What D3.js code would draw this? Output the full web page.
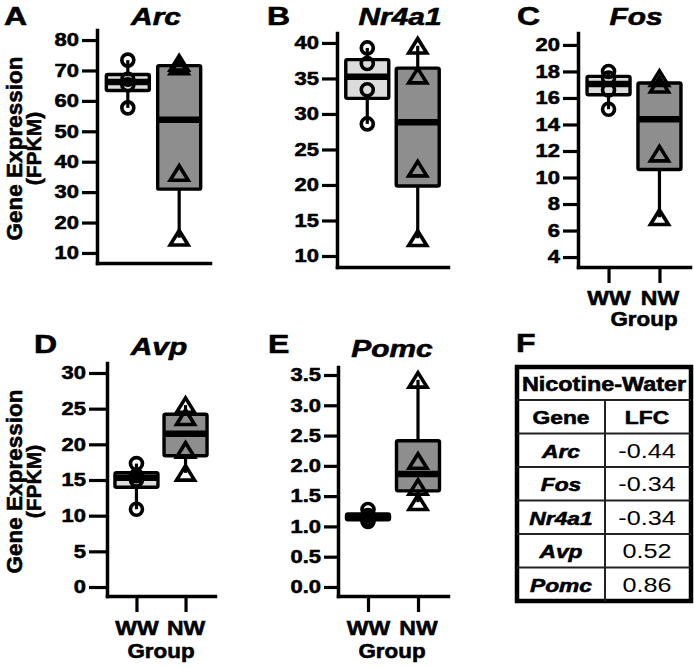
<!DOCTYPE html>
<html>
<head>
<meta charset="utf-8">
<script src="https://cdn.jsdelivr.net/npm/d3@7/dist/d3.min.js"></script>
<style>
  html, body { margin: 0; padding: 0; background: #fff; }
  svg { display: block; }
</style>
</head>
<body>
<svg id="chart" width="694" height="668"></svg>
<script>
// ---------------- DATA ----------------
const groups = ["WW", "NW"];

const arcWW   = [57.7, 65.3, 67.1, 73.4];
const arcNW   = [15.0, 36.3, 71.3, 72.5];
const nr4a1WW = [28.6, 33.4, 37.1, 39.3];
const nr4a1NW = [12.5, 22.3, 35.4, 39.6];
const fosWW   = [15.15, 16.6, 17.5, 18.0];
const fosNW   = [7.0, 11.8, 17.0, 17.5];
const avpWW   = [10.9, 15.0, 15.6, 17.3];
const avpNW   = [16.0, 19.2, 23.8, 25.5];
const pomcWW  = [1.08, 1.12, 1.18, 1.28];
const pomcNW  = [1.40, 1.65, 2.08, 3.42];

const arcTicks   = [10, 20, 30, 40, 50, 60, 70, 80];
const nr4a1Ticks = [10, 15, 20, 25, 30, 35, 40];
const fosTicks   = [4, 6, 8, 10, 12, 14, 16, 18, 20];
const avpTicks   = [0, 5, 10, 15, 20, 25, 30];
const pomcTicks  = [0.0, 0.5, 1.0, 1.5, 2.0, 2.5, 3.0, 3.5];

const tableGenes = ["Arc", "Fos", "Nr4a1", "Avp", "Pomc"];
const tableLFC   = ["-0.44", "-0.34", "-0.34", "0.52", "0.86"];

// ---------------- LAYOUT ----------------
const FONT = "'Liberation Sans', Arial, Helvetica, sans-serif";
const panels = [
  { gene: "Arc",   letter: "A", ww: arcWW,   nw: arcNW,   ticks: arcTicks,   fmt: d3.format("d"),
    x0: 97,  x1: 210, yTop: 30,  yBot: 263, domain: [6.7, 83.3],   titleX: 156, titleY: 25, letterX: 4,   letterY: 25,
    tickSize: 15, ylabel: true,  xlabels: false },
  { gene: "Nr4a1", letter: "B", ww: nr4a1WW, nw: nr4a1NW, ticks: nr4a1Ticks, fmt: d3.format("d"),
    x0: 337, x1: 448, yTop: 33,  yBot: 267, domain: [8.45, 41.4],  titleX: 400, titleY: 25, letterX: 267, letterY: 25,
    tickSize: 15, ylabel: false, xlabels: false },
  { gene: "Fos",   letter: "C", ww: fosWW,   nw: fosNW,   ticks: fosTicks,   fmt: d3.format("d"),
    x0: 578, x1: 690, yTop: 33,  yBot: 267, domain: [3.25, 20.9],  titleX: 636, titleY: 25, letterX: 517, letterY: 25,
    tickSize: 15, ylabel: false, xlabels: true, xlabY: 305, groupY: 326, groupX: 644 },
  { gene: "Avp",   letter: "D", ww: avpWW,   nw: avpNW,   ticks: avpTicks,   fmt: d3.format("d"),
    x0: 107, x1: 215, yTop: 363, yBot: 596, domain: [-1.26, 31.4], titleX: 159, titleY: 355, letterX: 34, letterY: 353,
    tickSize: 18, ylabel: true,  xlabels: true, xlabY: 635, groupY: 658, groupX: 161 },
  { gene: "Pomc",  letter: "E", ww: pomcWW,  nw: pomcNW,  ticks: pomcTicks,  fmt: d3.format(".1f"),
    x0: 338, x1: 448, yTop: 367, yBot: 596, domain: [-0.149, 3.632], titleX: 392, titleY: 357, letterX: 268, letterY: 353,
    tickSize: 14, ylabel: false, xlabels: true, xlabY: 635, groupY: 658, groupX: 392 }
];

const fills = { WW: "#dcdcdc", NW: "#8e8e8e" };
const BOXW = 43;
const TXT_STROKE = 0.55;

const svg = d3.select("#chart");

function txt(sel, x, y, s, o) {
  let tr = `translate(${x},${y}) scale(${o.sx || 1},1)`;
  if (o.rot) tr += ` rotate(${o.rot})`;
  const t = sel.append("text")
    .attr("transform", tr)
    .attr("text-anchor", o.anchor || "start")
    .style("font-family", FONT)
    .style("font-size", o.size + "px")
    .style("font-weight", o.weight || "normal")
    .style("font-style", o.style || "normal")
    .attr("fill", "#000")
    .text(s);
  if (o.weight === "bold") t.attr("stroke", "#000").attr("stroke-width", TXT_STROKE);
  return t;
}

panels.forEach(p => {
  const g = svg.append("g");
  const y = d3.scaleLinear().domain(p.domain).range([p.yBot, p.yTop]);
  const x = d3.scalePoint().domain(groups).range([p.x0, p.x1]).padding(0.6);

  // y axis
  g.append("g").attr("transform", `translate(${p.x0},0)`)
    .call(d3.axisLeft(y).tickValues(p.ticks).tickFormat(p.fmt)
      .tickSize(p.tickSize).tickSizeOuter(0).tickPadding(3))
    .call(a => {
      a.select(".domain").attr("stroke-width", 3.5).attr("stroke-linecap", "square");
      a.selectAll(".tick line").attr("stroke-width", 3.2);
      a.selectAll(".tick text")
        .attr("x", null)
        .attr("transform", `translate(${-(p.tickSize + 3)},0) scale(1.22,1)`)
        .style("font-family", FONT).style("font-size", "18px").style("font-weight", "bold")
        .attr("fill", "#000").attr("stroke", "#000").attr("stroke-width", TXT_STROKE);
    });

  // x axis
  g.append("g").attr("transform", `translate(0,${p.yBot})`)
    .call(d3.axisBottom(x).tickSize(p.xlabels ? 16 : 0).tickSizeOuter(0)
      .tickFormat(p.xlabels ? (d => d) : () => ""))
    .call(a => {
      a.select(".domain").attr("stroke-width", 3.5).attr("stroke-linecap", "square");
      a.selectAll(".tick line").attr("stroke-width", 3.2);
      a.selectAll(".tick text")
        .attr("y", null).attr("dy", null)
        .attr("transform", `translate(0,${(p.xlabY || 0) - p.yBot}) scale(1.15,1)`)
        .style("font-family", FONT).style("font-size", "20px").style("font-weight", "bold")
        .attr("fill", "#000").attr("stroke", "#000").attr("stroke-width", TXT_STROKE);
    });

  if (p.xlabels) {
    txt(g, p.groupX, p.groupY, "Group", { size: 20, weight: "bold", anchor: "middle", sx: 1.12 });
  }

  // boxes
  [["WW", p.ww], ["NW", p.nw]].forEach(([grp, vals]) => {
    const s = vals.slice().sort(d3.ascending);
    const q1 = d3.quantile(s, 0.25), med = d3.quantile(s, 0.5), q3 = d3.quantile(s, 0.75);
    const mn = s[0], mx = s[s.length - 1];
    const cx = x(grp);
    // whiskers
    g.append("line").attr("x1", cx).attr("x2", cx).attr("y1", y(mx)).attr("y2", y(q3))
      .attr("stroke", "#000").attr("stroke-width", 3.2);
    g.append("line").attr("x1", cx).attr("x2", cx).attr("y1", y(q1)).attr("y2", y(mn))
      .attr("stroke", "#000").attr("stroke-width", 3.2);
    // box
    g.append("rect").attr("x", cx - BOXW / 2).attr("width", BOXW)
      .attr("y", y(q3)).attr("height", Math.max(0.5, y(q1) - y(q3)))
      .attr("fill", fills[grp]).attr("stroke", "#000").attr("stroke-width", 3.4)
      .attr("stroke-linejoin", "round").attr("rx", 1.5);
    // median
    g.append("line").attr("x1", cx - BOXW / 2).attr("x2", cx + BOXW / 2)
      .attr("y1", y(med)).attr("y2", y(med))
      .attr("stroke", "#000").attr("stroke-width", 6.5);
    // points
    s.forEach(v => {
      if (grp === "WW") {
        g.append("circle").attr("cx", cx).attr("cy", y(v)).attr("r", 6)
          .attr("fill", "none").attr("stroke", "#000").attr("stroke-width", 3.6);
      } else {
        g.append("path").attr("transform", `translate(${cx},${y(v) + 0.75})`)
          .attr("d", "M0,-8L9,6.5L-9,6.5Z")
          .attr("fill", "none").attr("stroke", "#000").attr("stroke-width", 3.6)
          .attr("stroke-linejoin", "miter");
      }
    });
  });

  // title and letter
  txt(g, p.titleX, p.titleY, p.gene, { size: 23, weight: "bold", style: "italic", anchor: "middle", sx: 1.3 });
  txt(g, p.letterX, p.letterY, p.letter, { size: 25, weight: "bold", anchor: "start", sx: 1.28 });

  if (p.ylabel) {
    const cy = (p.yTop + p.yBot) / 2 + 2;
    txt(g, 22, cy, "Gene Expression", { size: 22.5, weight: "bold", anchor: "middle", sx: 1.0, rot: -90 });
    txt(g, 41, cy, "(FPKM)", { size: 21, weight: "bold", anchor: "middle", sx: 1.0, rot: -90 });
  }
});

// ---------------- TABLE (F) ----------------
const T = { x0: 517, x1: 691, y0: 367, headH: 33, rowH: 33.5, colX: 605 };
const tg = svg.append("g");
txt(tg, 516, 352, "F", { size: 25, weight: "bold", anchor: "start", sx: 1.28 });
const nRows = tableGenes.length + 1;
const rowTops = d3.range(nRows + 1).map(i => T.y0 + T.headH + i * T.rowH);
const yEnd = rowTops[nRows];
tg.append("rect").attr("x", T.x0).attr("y", T.y0).attr("width", T.x1 - T.x0).attr("height", yEnd - T.y0)
  .attr("fill", "#fff").attr("stroke", "#000").attr("stroke-width", 4.5);
rowTops.slice(0, nRows).forEach(ry => {
  tg.append("line").attr("x1", T.x0).attr("x2", T.x1).attr("y1", ry).attr("y2", ry)
    .attr("stroke", "#222").attr("stroke-width", 2);
});
tg.append("line").attr("x1", T.colX).attr("x2", T.colX).attr("y1", rowTops[0]).attr("y2", yEnd)
  .attr("stroke", "#222").attr("stroke-width", 2);
const cGene = (T.x0 + T.colX) / 2, cVal = (T.colX + T.x1) / 2 - 1;
txt(tg, (T.x0 + T.x1) / 2, T.y0 + T.headH / 2 + 7.5, "Nicotine-Water", { size: 19.5, weight: "bold", anchor: "middle", sx: 1.2 });
txt(tg, cGene, rowTops[0] + T.rowH / 2 + 7.5, "Gene", { size: 19, weight: "bold", anchor: "middle", sx: 1.2 });
txt(tg, cVal, rowTops[0] + T.rowH / 2 + 7.5, "LFC", { size: 19, weight: "bold", anchor: "middle", sx: 1.2 });
tableGenes.forEach((gname, i) => {
  const cy = rowTops[i + 1] + T.rowH / 2 + 7.5;
  txt(tg, cGene, cy, gname, { size: 19, weight: "bold", style: "italic", anchor: "middle", sx: 1.2 });
  txt(tg, cVal, cy, tableLFC[i], { size: 21, anchor: "middle", sx: 1.2 });
});
</script>
</body>
</html>
